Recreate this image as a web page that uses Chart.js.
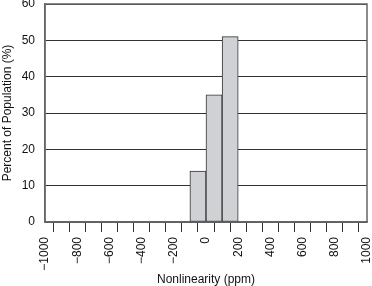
<!DOCTYPE html>
<html>
<head>
<meta charset="utf-8">
<script src="https://cdn.jsdelivr.net/npm/chart.js@4/dist/chart.umd.min.js"></script>
<style>
  html, body { margin: 0; padding: 0; background: #fff; }
  #wrap { width: 372px; height: 286px; }
</style>
</head>
<body>
<div id="wrap"><canvas id="myChart" width="372" height="286"></canvas></div>
<script>
// histogram bins (centres of 100 ppm wide bins) and their share of population
var binCenters = [-50, 50, 150];
var percents = [14, 35, 51];
var xTicks = [-1000, -800, -600, -400, -200, 0, 200, 400, 600, 800, 1000];
var yTicks = [0, 10, 20, 30, 40, 50, 60];

var gridColor = "#333";
var frameColor = "#666";

// draw the grey frame round the plot area
var framePlugin = {
  id: "frame",
  afterDraw: function (chart) {
    var a = chart.chartArea;
    var ctx = chart.ctx;
    ctx.save();
    ctx.strokeStyle = frameColor;
    ctx.lineWidth = 1.5;
    ctx.strokeRect(a.left, a.top, a.right - a.left, a.bottom - a.top);
    ctx.restore();
  },
};

Chart.defaults.font.family = "'Liberation Sans', Arial, sans-serif";
Chart.defaults.font.size = 12;
Chart.defaults.color = "#111";

var ctx = document.getElementById("myChart").getContext("2d");
var myChart = new Chart(ctx, {
  type: "bar",
  data: {
    datasets: [
      {
        data: binCenters.map(function (c, i) {
          return { x: c, y: percents[i] };
        }),
        backgroundColor: "#d0d1d5",
        borderColor: "#333",
        borderWidth: 1,
        borderSkipped: false,
        barPercentage: 1,
        categoryPercentage: 1,
      },
    ],
  },
  options: {
    responsive: false,
    animation: false,
    layout: { padding: { top: 4, right: 5, left: 0, bottom: 0 } },
    plugins: { legend: { display: false }, tooltip: { enabled: false } },
    scales: {
      x: {
        type: "linear",
        offset: false,
        min: -1000,
        max: 1000,
        afterBuildTicks: function (scale) {
          var t = [];
          for (var v = -1000; v <= 1000; v += 100) t.push({ value: v });
          scale.ticks = t;
        },
        afterFit: function (scale) {
          scale.height = 64;
          scale.paddingLeft = 0;
          scale.paddingRight = 0;
        },
        ticks: {
          autoSkip: false,
          minRotation: 90,
          maxRotation: 90,
          padding: 5,
          callback: function (v) {
            if (xTicks.indexOf(v) < 0) return "";
            return v < 0 ? "\u2212" + Math.abs(v) : String(v);
          },
        },
        grid: {
          drawOnChartArea: false,
          drawTicks: true,
          tickLength: 10,
          color: gridColor,
        },
        border: { color: frameColor, width: 1.5 },
        title: {
          display: true,
          text: "Nonlinearity (ppm)",
          padding: { top: 0, bottom: -1 },
        },
      },
      y: {
        min: 0,
        max: 60,
        afterBuildTicks: function (scale) {
          scale.ticks = yTicks.map(function (v) {
            return { value: v };
          });
        },
        afterFit: function (scale) {
          scale.width = 45;
          scale.paddingTop = 0;
          scale.paddingBottom = 0;
        },
        ticks: { padding: 10 },
        grid: { drawTicks: false, color: gridColor },
        border: { color: frameColor, width: 1.5 },
        title: {
          display: true,
          text: "Percent of Population (%)",
          padding: { top: 0, bottom: 0 },
        },
      },
    },
  },
  plugins: [framePlugin],
});
</script>
</body>
</html>
